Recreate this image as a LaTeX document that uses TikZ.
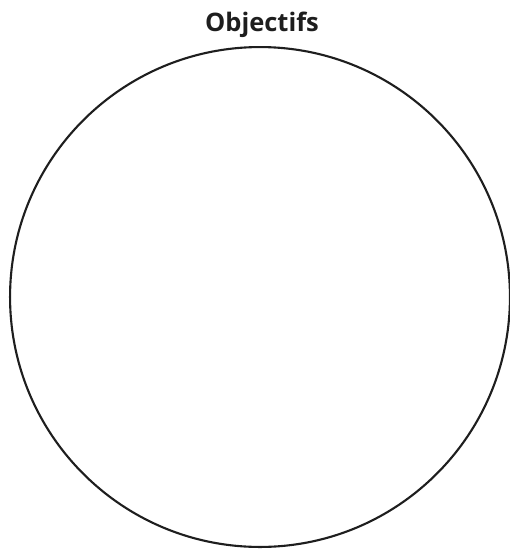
\documentclass[tikz,border=0pt]{standalone}
\usepackage{fontspec}
\setmainfont{Open Sans}
\usetikzlibrary{positioning}
\definecolor{inkdark}{RGB}{30,30,30}
\tikzset{
  cerclebox/.style={draw=inkdark, line width=1.2pt, circle, minimum size=10cm, inner sep=0pt},
  titrebox/.style={font=\fontsize{14.5}{17}\selectfont\bfseries, text=inkdark, inner sep=0pt}
}
\begin{document}
\begin{tikzpicture}[x=0.02cm, y=-0.02cm]
  \useasboundingbox (0,0) rectangle (510,549);
  \node[cerclebox] (cercle) at (260,297) {};
  \node[titrebox, anchor=base] (titre) at (262,31) {Objectifs};
\end{tikzpicture}
\end{document}
